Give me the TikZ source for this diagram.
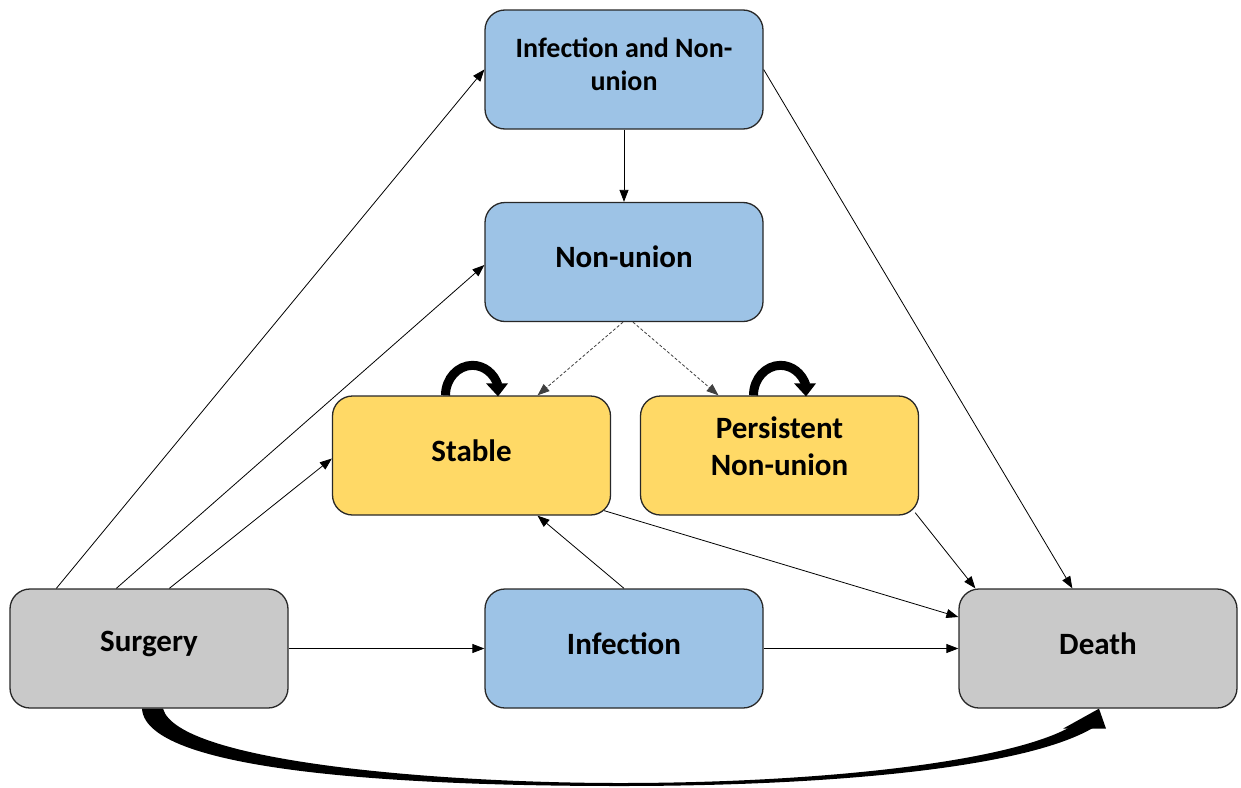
\documentclass[tikz,border=0pt]{standalone}
\usepackage{fontspec}
\setmainfont{Carlito}
\usetikzlibrary{arrows.meta,calc}
\definecolor{boxblue}{RGB}{157,195,230}
\definecolor{boxyellow}{RGB}{255,217,102}
\definecolor{boxgray}{RGB}{201,201,201}
\definecolor{edgegray}{RGB}{40,40,40}
\newcommand\boxtext[1]{\raisebox{5pt}[\height][\depth]{\parbox{260pt}{\centering #1}}}
\tikzset{
  state/.style={draw=edgegray, line width=1.3pt, rounded corners=20pt,
    minimum width=278pt, minimum height=119pt, inner sep=2pt,
    font=\fontsize{31}{37}\selectfont\bfseries},
  bluebox/.style={state, fill=boxblue},
  yellowbox/.style={state, fill=boxyellow},
  graybox/.style={state, fill=boxgray},
  conn/.style={draw=black, line width=0.8pt, -{Triangle[length=12pt,width=9pt]}},
  dashconn/.style={draw=black!75, line width=0.8pt, dash pattern=on 3pt off 2pt, -{Triangle[length=12pt,width=9pt]}},
  loopline/.style={line width=9pt, draw=black},
  thickfill/.style={fill=black, draw=none}
}
\begin{document}
\begin{tikzpicture}[x=1pt,y=-1pt]
\useasboundingbox[fill=white] (0,0) rectangle (1241,787);

\node[bluebox] (inu) at (624,69.5) {\fontsize{28}{33}\selectfont\boxtext{Infection and Non-\\union}};
\node[bluebox] (nu) at (624,262) {\boxtext{Non-union}};
\node[yellowbox] (stab) at (471.5,455.5) {\boxtext{Stable}};
\node[yellowbox] (pers) at (779.5,455.5) {\raisebox{9pt}[\height][\depth]{\parbox{260pt}{\centering Persistent\\Non-union}}};
\node[graybox] (surg) at (149,648.5) {\boxtext{Surgery}};
\node[bluebox] (inf) at (624,648.5) {\boxtext{Infection}};
\node[graybox] (death) at (1098,648.5) {\boxtext{Death}};

% connectors
\draw[conn] ($(surg.north west)+(47,0)$) -- (inu.west);
\draw[conn] ($(surg.north west)+(107,0)$) -- ($(nu.west)+(0,3)$);
\draw[conn] ($(surg.north west)+(160,0)$) -- ($(stab.west)+(0,3)$);
\draw[conn] (surg.east) -- (inf.west);
\draw[conn] (inf.east) -- (death.west);
\draw[conn] (inf.north) -- ($(stab.south)+(66,0)$);
\draw[conn] ($(stab.south east)+(-7,-5)$) -- ($(death.west)+(0,-31.5)$);
\draw[conn] ($(pers.south east)+(-4,-3)$) -- ($(death.north west)+(17,0)$);
\draw[conn] (inu.east) -- ($(death.north west)+(114,0)$);
\draw[conn] (inu.south) -- (nu.north);
\draw[dashconn] ($(nu.south)+(-1,0)$) -- ($(stab.north)+(66,0)$);
\draw[dashconn] ($(nu.south)+(9,0)$) -- ($(pers.north)+(-61,0)$);

% self loops
\draw[loopline] ($(stab.north)+(-26,0)$) arc[start angle=180,end angle=340,x radius=27,y radius=30];
\fill ($(stab.north)+(14.5,-12)$) -- ($(stab.north)+(36.5,-12)$) -- ($(stab.north)+(26.5,1)$) -- cycle;
\draw[loopline] ($(pers.north)+(-26,0)$) arc[start angle=180,end angle=340,x radius=27,y radius=30];
\fill ($(pers.north)+(14.5,-12)$) -- ($(pers.north)+(36.5,-12)$) -- ($(pers.north)+(26.5,1)$) -- cycle;

% big curved arrow from Surgery to Death
\coordinate (s1) at ($(surg.south)+(-7,0)$);
\coordinate (s2) at ($(surg.south)+(14,0)$);
\coordinate (tip) at ($(death.south)+(1,0)$);
\fill[thickfill] (s1) .. controls (146,775) and (430,786) .. (620,786)
   .. controls (830,786) and (1030,768) .. (1096,726)
   -- (1072,726)
   .. controls (1010,762) and (820,783) .. (620,783)
   .. controls (440,783) and (178,762) .. (s2) -- cycle;
\fill[thickfill] (tip) -- ($(tip)+(-36,20)$) -- ($(tip)+(7,20)$) -- cycle;
\end{tikzpicture}
\end{document}
